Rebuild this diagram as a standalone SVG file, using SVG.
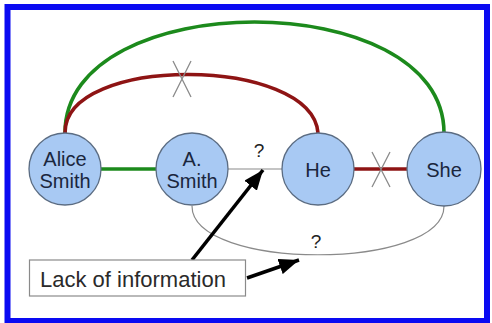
<svg xmlns="http://www.w3.org/2000/svg" width="492" height="323" viewBox="0 0 492 323">
  <style>
    .node circle { fill: #a8c9f3; stroke: #5b6c82; stroke-width: 1.3; }
    .node text { font-family: "Liberation Sans", Arial, sans-serif; font-size: 20px; fill: #1a263d; text-anchor: middle; }
    .ok { fill: none; stroke: #1c8a1c; stroke-width: 3.6; }
    .bad { fill: none; stroke: #8e1414; stroke-width: 3.6; }
    .unknown { fill: none; stroke: #8a8a8a; stroke-width: 1.2; }
    .cross { stroke: #8a8a8a; stroke-width: 1.3; fill: none; }
    .q { font-family: "Liberation Sans", Arial, sans-serif; font-size: 19px; fill: #222; text-anchor: middle; }
    .pointer { stroke: #000; stroke-width: 3.6; fill: none; marker-end: url(#head); }
    .label rect { fill: #fff; stroke: #8a8a8a; stroke-width: 1.2; }
    .label text { font-family: "Liberation Sans", Arial, sans-serif; font-size: 22px; fill: #2a2a2a; }
  </style>
  <defs>
    <marker id="head" markerUnits="userSpaceOnUse" markerWidth="22" markerHeight="16" refX="20" refY="8" orient="auto">
      <path d="M0,0 L20,8 L0,16 Z" fill="#000"/>
    </marker>
  </defs>

  <rect x="0" y="0" width="492" height="323" fill="#fff"/>
  <!-- frame -->
  <rect x="7.5" y="7" width="479.5" height="314" fill="none" stroke="#0a0af2" stroke-width="6"/>

  <g id="connectors">
    <path class="ok" d="M65,133 C65,-15 444,-15 444,133"/>
    <path class="bad" d="M65,133 C64,54 312,56 318,133"/>
    <path class="cross" d="M173,61 L191,97 M191,61 L173,97"/>
    <line class="ok" x1="101" y1="169" x2="156" y2="169"/>
    <line class="unknown" x1="228" y1="169" x2="282" y2="169"/>
    <text class="q" x="259" y="157">?</text>
    <line class="bad" x1="354" y1="169" x2="408" y2="169"/>
    <path class="cross" d="M372,152 L390,187 M390,152 L372,187"/>
    <path class="unknown" d="M192,206 C192,271 444,271 444,206"/>
    <text class="q" x="316" y="248">?</text>
    <line class="pointer" x1="192" y1="260" x2="263" y2="170"/>
    <line class="pointer" x1="247" y1="278" x2="299" y2="260"/>
  </g>

  <g id="alice-smith" class="node">
    <circle cx="65" cy="169" r="36"/>
    <text x="65" y="166">Alice</text>
    <text x="65" y="188">Smith</text>
  </g>
  <g id="a-smith" class="node">
    <circle cx="192" cy="169" r="36"/>
    <text x="192" y="166">A.</text>
    <text x="192" y="188">Smith</text>
  </g>
  <g id="he" class="node">
    <circle cx="318" cy="169" r="36"/>
    <text x="318" y="177">He</text>
  </g>
  <g id="she" class="node">
    <circle cx="444" cy="169" r="37"/>
    <text x="444" y="177">She</text>
  </g>

  <g id="lack-of-information" class="label">
    <rect x="29.5" y="260" width="216" height="36"/>
    <text x="40" y="287">Lack of information</text>
  </g>
</svg>
